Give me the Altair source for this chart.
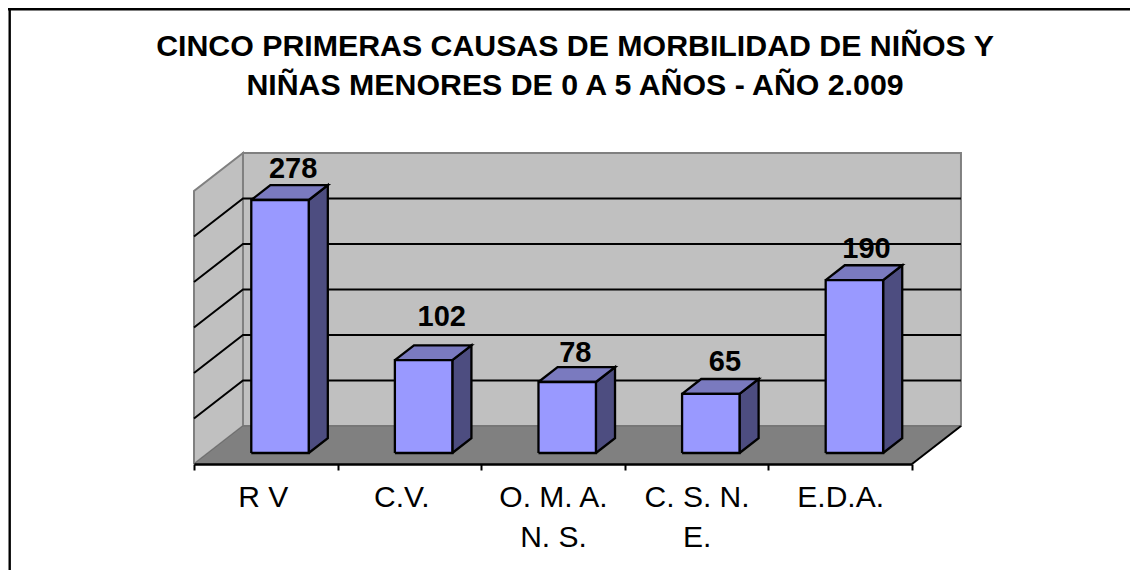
import altair as alt
import pandas as pd

TITLE = ["CINCO PRIMERAS CAUSAS DE MORBILIDAD DE NIÑOS Y", "NIÑAS MENORES DE 0 A 5 AÑOS - AÑO 2.009"]
CATEGORIES = ["R V", "C.V.", "O. M. A.|N. S.", "C. S. N.|E.", "E.D.A."]
VALUES = [278, 102, 78, 65, 190]
GRID_VALUES = [50, 100, 150, 200, 250]
VALUE_MAX = 300

# Oblique projection of the depth axis, in category units and value units
DEPTH_X = 0.341
DEPTH_Y = 41.76
BAR_HALF = 0.2
BAR_Z = (0.29, 0.68)
N = len(CATEGORIES)

X_SCALE = alt.Scale(domain=[0, N], nice=False, zero=False)
Y_SCALE = alt.Scale(domain=[0, VALUE_MAX + DEPTH_Y], nice=False, zero=False)


def pt(c, v, z):
    return c + z * DEPTH_X, v + z * DEPTH_Y


def table(faces, close=True):
    rows = []
    for f, corners in enumerate(faces):
        pts = list(corners) + ([corners[0]] if close else [])
        for s, (c, v, z) in enumerate(pts):
            x, y = pt(c, v, z)
            rows.append({"face": f, "seq": s, "x": x, "y": y})
    return pd.DataFrame(rows)


def layer(faces, close=True, **mark):
    return (
        alt.Chart(table(faces, close))
        .mark_line(strokeJoin="miter", strokeCap="butt", **mark)
        .encode(
            x=alt.X("x:Q", scale=X_SCALE, axis=None),
            y=alt.Y("y:Q", scale=Y_SCALE, axis=None),
            order="seq:Q",
            detail="face:N",
        )
    )


back = [[(0, 0, 1), (N, 0, 1), (N, VALUE_MAX, 1), (0, VALUE_MAX, 1)]]
left = [[(0, 0, 0), (0, 0, 1), (0, VALUE_MAX, 1), (0, VALUE_MAX, 0)]]
floor = [[(0, 0, 0), (N, 0, 0), (N, 0, 1), (0, 0, 1)]]
grid = [[(0, g, 0), (0, g, 1), (N, g, 1)] for g in GRID_VALUES]
edge = [[(N, 0, 0), (N, 0, 1)]]

front_f, top_f, side_f = [], [], []
z0, z1 = BAR_Z
for i, v in enumerate(VALUES):
    a, b = i + 0.5 - BAR_HALF, i + 0.5 + BAR_HALF
    front_f.append([(a, 0, z0), (b, 0, z0), (b, v, z0), (a, v, z0)])
    top_f.append([(a, v, z0), (b, v, z0), (b, v, z1), (a, v, z1)])
    side_f.append([(b, 0, z0), (b, 0, z1), (b, v, z1), (b, v, z0)])

GREY = "#808080"
layers = [
    layer(back, fill="#C0C0C0", stroke=GREY, strokeWidth=2),
    layer(left, fill="#C0C0C0", stroke=GREY, strokeWidth=2),
    layer(floor, fill=GREY, stroke="#6E6E6E", strokeWidth=1),
    layer(grid, close=False, stroke="black", strokeWidth=2),
    layer(edge, close=False, stroke="black", strokeWidth=2),
    layer(side_f, fill="#4D4D80", stroke="black", strokeWidth=2.3),
    layer(top_f, fill="#7A7ABF", stroke="black", strokeWidth=2.3),
    layer(front_f, fill="#9999FF", stroke="black", strokeWidth=2.3),
]

# Value labels sit above the rear of each bar, nudged by hand as in the original
NUDGE = [(-6, -7), (-1, -19), (-11, -5), (-5, -8), (-7, -7)]
for i, v in enumerate(VALUES):
    x, y = pt(i + 0.5 + 0, v, z1)
    layers.append(
        alt.Chart(pd.DataFrame({"x": [x], "y": [y], "t": [str(v)]}))
        .mark_text(font="Liberation Sans", fontWeight="bold", fontSize=29, color="black",
                   baseline="alphabetic", align="center", dx=NUDGE[i][0], dy=NUDGE[i][1])
        .encode(x=alt.X("x:Q", scale=X_SCALE, axis=None),
                y=alt.Y("y:Q", scale=Y_SCALE, axis=None),
                text="t:N")
    )

quant = alt.layer(*layers)

axis_layer = (
    alt.Chart(pd.DataFrame({"cat": CATEGORIES}))
    .mark_tick(opacity=0)
    .encode(
        x=alt.X(
            "cat:N",
            sort=CATEGORIES,
            scale=alt.Scale(paddingInner=0, paddingOuter=0),
            title=None,
            axis=alt.Axis(
                tickBand="extent", labelAngle=0, labelFont="Liberation Sans", labelFontSize=30,
                labelColor="black", labelPadding=12, labelLimit=300, labelLineHeight=40,
                labelExpr="split(datum.label, '|')", labelOverlap=False,
                labelOffset=alt.expr("datum.value === 'R V' ? -3 : datum.value === 'C.V.' ? -8 : 0"),
                domainColor="black", domainWidth=2.3, tickColor="black", tickWidth=2, tickSize=6,
                grid=False, zindex=1,
            ),
        ),
    )
)

frame_top = alt.Chart(pd.DataFrame({"a": [0]})).mark_rule(color="black", strokeWidth=2.4).encode(
    x=alt.value(-186), x2=alt.value(936), y=alt.value(-143.7))
frame_left = alt.Chart(pd.DataFrame({"a": [0]})).mark_rule(color="black", strokeWidth=2.4).encode(
    x=alt.value(-184.3), y=alt.value(-145), y2=alt.value(417))

chart = (
    alt.layer(quant, axis_layer, frame_top, frame_left)
    .resolve_scale(x="independent")
    .properties(
        width=718,
        height=311,
        padding={"left": 186, "top": 145, "right": 218, "bottom": 114},
        autosize=alt.AutoSizeParams(type="none"),
        background="white",
        title=alt.TitleParams(
            text=TITLE, font="Liberation Sans", fontSize=30.3, fontWeight="bold", color="black",
            anchor="middle", lineHeight=39, offset=0, dx=22, dy=94,
        ),
    )
    .configure_view(stroke=None)
)

chart.save("out.html", embed_options={"renderer": "svg", "actions": False})
